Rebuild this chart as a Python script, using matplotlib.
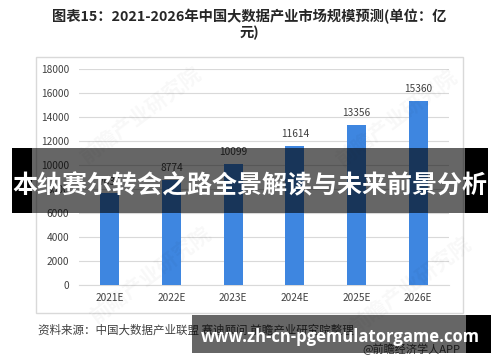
import matplotlib.pyplot as plt
from matplotlib.patches import Rectangle

plt.rcParams['font.family'] = ['Noto Sans CJK SC', 'DejaVu Sans']

# data
years = ['2021E', '2022E', '2023E', '2024E', '2025E', '2026E']
market_size = [7630, 8774, 10099, 11614, 13356, 15360]   # 2021E value hidden under banner, estimated
y_ticks = [0, 2000, 4000, 6000, 8000, 10000, 12000, 14000, 16000, 18000]

title_line1 = '图表15：2021-2026年中国大数据产业市场规模预测(单位：亿'
title_line2 = '元)'
banner_text = '本纳赛尔转会之路全景解读与未来前景分析'
source_text = '资料来源：中国大数据产业联盟 赛迪顾问 前瞻产业研究院整理'
credit_text = '@前瞻经济学人APP'
url_text = 'www.zh-cn-pgemulatorgame.com'
watermark = '前瞻产业研究院'

W, H = 500, 362
fig = plt.figure(figsize=(5, 3.62), dpi=100)


def fx(px):
    return px / W


def fy(py):
    return 1 - py / H


def box(x0, y0, x1, y1, **kw):
    # rectangle in pixel coords (top-left origin)
    r = Rectangle((fx(x0), fy(y1)), fx(x1) - fx(x0), fy(y0) - fy(y1),
                  transform=fig.transFigure, **kw)
    fig.add_artist(r)
    return r


# outer chart frame
box(36, 57, 463, 313, fill=False, edgecolor='#d9d9d9', lw=1, zorder=0.5)

ax = fig.add_axes([fx(79), fy(285), fx(449) - fx(79), fy(69) - fy(285)])
ax.set_facecolor('none')
x = range(len(years))
bars = ax.bar(x, market_size, width=0.31, color='#3e86e0', zorder=3)
for xi, v in zip(x, market_size):
    ax.annotate(str(v), (xi, v), xytext=(0, 8.4), textcoords='offset points',
                ha='center', va='center', fontsize=7.3, color='#404040', zorder=4)

ax.set_xlim(-0.5, len(years) - 0.5)
ax.set_ylim(0, 18000)
ax.set_yticks(y_ticks)
ax.set_yticklabels([str(t) for t in y_ticks])
ax.set_xticks(list(x))
ax.set_xticklabels(years)
ax.tick_params(axis='y', length=0, pad=7, labelsize=7.3, labelcolor='#404040')
ax.tick_params(axis='x', length=0, pad=6, labelsize=7.3, labelcolor='#404040')
ax.yaxis.grid(True, color='#d9d9d9', lw=0.8, zorder=0)
ax.set_axisbelow(True)
for s in ['top', 'right', 'left']:
    ax.spines[s].set_visible(False)
ax.spines['bottom'].set_color('#d9d9d9')
ax.spines['bottom'].set_linewidth(0.8)

# faint watermarks
for (cx, cy) in [(140, 115), (150, 275), (396, 118), (410, 285)]:
    fig.text(fx(cx), fy(cy), watermark, rotation=37, ha='center', va='center',
             fontsize=15, fontweight='bold', color='#000000', alpha=0.03, zorder=5)

# titles
fig.text(fx(249), fy(17), title_line1, ha='center', va='center', fontsize=10.3,
         fontweight='bold', color='#262626')
fig.text(fx(249), fy(33), title_line2, ha='center', va='center', fontsize=10.3,
         fontweight='bold', color='#262626')

# source and credit
fig.text(fx(38), fy(330), source_text, ha='left', va='center', fontsize=8.3, color='#404040')
fig.text(fx(362), fy(349), credit_text, ha='left', va='center', fontsize=8, color='#404040')

# banner overlay
box(12, 148, 32, 213, color='black', lw=0, zorder=10)
box(465, 148, 488, 213, color='black', lw=0, zorder=10)
box(32, 148, 465, 213, color='black', alpha=0.6, lw=0, zorder=10)
fig.text(fx(250), fy(186), banner_text, ha='center', va='center', fontsize=18,
         fontweight='bold', color='white', zorder=11)

# bottom url overlay
box(192, 315, 466, 353, color='black', alpha=0.6, lw=0, zorder=10)
box(466, 315, 491, 353, color='black', lw=0, zorder=10)
fig.text(fx(340), fy(337), url_text, ha='center', va='center', fontsize=12,
         fontweight='bold', color='white', zorder=11,
         family=['Open Sans', 'DejaVu Sans'])

fig.savefig('out.png', dpi=100)
